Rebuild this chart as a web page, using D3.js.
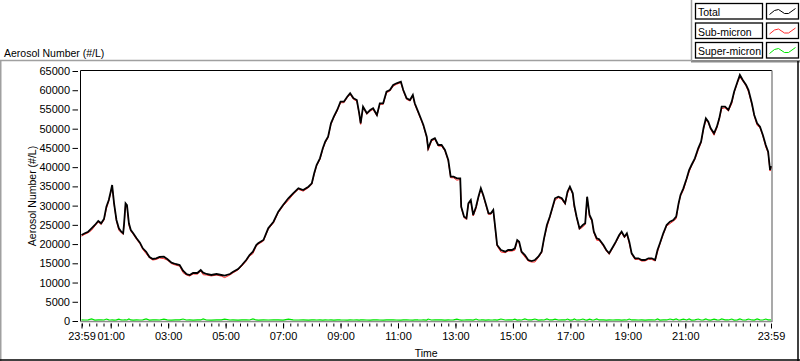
<!DOCTYPE html>
<html>
<head>
<meta charset="utf-8">
<script src="https://cdn.jsdelivr.net/npm/d3@7"></script>
<style>
  body { margin: 0; background: #fff; }
  svg { display: block; font-family: "Liberation Sans", Arial, sans-serif; }
</style>
</head>
<body>
<svg id="chart" width="800" height="361"></svg>
<script>
// sample times, minutes after midnight (-1 = 23:59 of the previous day)
const sampleMinutes = [
  -1, 6, 13, 20, 27, 34, 40, 46, 51, 56,
  60, 63, 67, 72, 77, 82, 86, 88, 91, 94,
  98, 102, 107, 114, 121, 127, 134, 141, 148, 155,
  162, 171, 178, 187, 195, 204, 211, 218, 225, 232,
  241, 248, 253, 260, 270, 281, 291, 298, 309, 315,
  326, 334, 343, 350, 357, 364, 368, 379, 389, 400,
  410, 420, 431, 441, 452, 462, 473, 480, 485, 490,
  497, 503, 508, 514, 520, 526, 533, 540, 547, 554,
  560, 567, 574, 579, 582, 587, 595, 602, 608, 616,
  622, 629, 636, 643, 650, 657, 666, 671, 678, 685,
  691, 695, 702, 709, 713, 720, 723, 730, 737, 744,
  751, 758, 765, 770, 776, 783, 790, 792, 798, 803,
  807, 812, 817, 823, 828, 833, 838, 843, 849, 854,
  859, 864, 867, 875, 884, 890, 898, 904, 909, 913,
  918, 925, 932, 939, 946, 953, 960, 965, 971, 977,
  983, 988, 995, 1002, 1009, 1014, 1019, 1025, 1028, 1033,
  1039, 1046, 1051, 1055, 1060, 1065, 1069, 1075, 1080, 1089,
  1095, 1101, 1109, 1115, 1122, 1127, 1133, 1138, 1143, 1148,
  1155, 1162, 1169, 1176, 1183, 1190, 1197, 1202, 1207, 1214,
  1221, 1228, 1235, 1241, 1246, 1250, 1256, 1263, 1268, 1273,
  1280, 1287, 1293, 1298, 1303, 1308, 1313, 1320, 1326, 1331,
  1336, 1343, 1350, 1357, 1362, 1369, 1374, 1380, 1387, 1392,
  1399, 1404, 1410, 1416, 1422, 1428, 1433, 1437, 1439
];

const totalNumber = [
  22360, 22800, 23220, 24100, 24960, 26000, 25400, 26520, 29720, 31460,
  33620, 35360, 30600, 26260, 24100, 23220, 22800, 25400, 30600, 30160,
  25400, 23660, 22800, 21500, 20360, 18900, 18020, 16640, 16120, 16300,
  16640, 16720, 16120, 15160, 14820, 14560, 13080, 12220, 11960, 12480,
  12480, 13260, 12560, 12220, 11960, 12220, 11960, 11780, 12220, 12740,
  13520, 14560, 15860, 17160, 18020, 19760, 20200, 21060, 24100, 25820,
  28420, 30160, 31900, 33200, 34500, 34060, 34920, 35800, 38400, 40560,
  42300, 44900, 46620, 47920, 51400, 53120, 54860, 57020, 57020, 58320,
  59200, 57900, 57460, 54000, 51400, 55720, 54000, 54860, 55300, 53560,
  56600, 56600, 59620, 60060, 61360, 61800, 62220, 60060, 57900, 57460,
  58760, 56600, 54420, 52260, 50960, 47920, 44900, 47060, 47500, 45760,
  45760, 44460, 41860, 37520, 37520, 37100, 37100, 29720, 27120, 26700,
  30600, 31460, 27560, 29720, 32320, 34500, 32760, 30600, 28000, 28000,
  28860, 23220, 19760, 18460, 18020, 18460, 18460, 18900, 21060, 20620,
  18020, 17160, 15860, 15600, 15860, 16720, 18020, 21500, 24960, 27120,
  29720, 31900, 32320, 31900, 30600, 33620, 34920, 33200, 30160, 27120,
  24100, 24960, 25400, 32320, 27560, 26260, 23220, 21500, 21240, 19760,
  18460, 17600, 19320, 20620, 22360, 23220, 21920, 22800, 20620, 17600,
  16300, 16300, 15860, 15860, 16300, 16300, 15860, 18460, 20200, 22800,
  24960, 25820, 26260, 27120, 30600, 32760, 34500, 37100, 39260, 40560,
  42300, 44900, 46620, 50100, 52700, 51820, 50100, 48800, 50520, 52700,
  55720, 55720, 54860, 57020, 59620, 62220, 63960, 62660, 61360, 60060,
  56600, 53560, 51400, 50520, 48360, 45760, 44020, 39260, 40300
];

const superMicron = [
  300, 260, 280, 520, 250, 270, 300, 260, 510, 280,
  260, 300, 250, 280, 500, 270, 260, 300, 280, 260,
  510, 270, 250, 300, 260, 280, 520, 250, 270, 300,
  260, 500, 280, 250, 270, 300, 510, 260, 280, 250,
  300, 270, 520, 260, 250, 280, 300, 500, 260, 270,
  250, 280, 300, 260, 520, 270, 250, 280, 260, 300,
  270, 250, 510, 280, 260, 300, 250, 270, 280, 260,
  300, 250, 270, 260, 280, 250, 300, 270, 260, 250,
  280, 260, 300, 250, 270, 280, 260, 250, 300, 270,
  260, 250, 280, 270, 300, 260, 250, 280, 270, 260,
  250, 300, 270, 260, 280, 250, 510, 260, 270, 280,
  300, 250, 270, 260, 280, 500, 270, 250, 260, 300,
  270, 280, 250, 510, 260, 270, 300, 250, 280, 260,
  270, 300, 250, 520, 260, 280, 270, 500, 250, 300,
  260, 520, 270, 280, 510, 250, 300, 260, 520, 270,
  280, 500, 260, 300, 270, 510, 250, 280, 520, 260,
  270, 510, 300, 250, 500, 280, 260, 520, 270, 300,
  250, 280, 260, 270, 300, 250, 280, 260, 510, 270,
  300, 260, 280, 250, 270, 300, 260, 520, 250, 280,
  270, 510, 300, 520, 260, 280, 500, 270, 520, 250,
  300, 510, 260, 280, 520, 270, 250, 500, 300, 260,
  520, 280, 270, 510, 250, 300, 520, 260, 280, 510,
  270, 250, 520, 300, 260, 510, 280, 270, 300
];

const yTickValues = d3.range(0, 65001, 5000);
const xMajorMinutes = [-1, 60, 180, 300, 420, 540, 660, 780, 900, 1020, 1140, 1260, 1439];
const xMajorLabels = ["23:59", "01:00", "03:00", "05:00", "07:00", "09:00", "11:00",
                      "13:00", "15:00", "17:00", "19:00", "21:00", "23:59"];
const legendNames = ["Total", "Sub-micron", "Super-micron"];
const legendColors = ["#000000", "#ff2a2a", "#00e600"];

// sub-micron is whatever is left of the total
const subMicron = totalNumber.map((v, i) => v - superMicron[i]);

const svg = d3.select("#chart");
const plot = {left: 80.5, right: 772, top: 70.5, bottom: 321.5};

const x = d3.scaleLinear().domain([-1, 1439]).range([81.5, 771]);
const y = d3.scaleLinear().domain([0, 65000]).range([321, 71]);

// outer panel frame
svg.append("line").attr("x1", 0).attr("x2", 692).attr("y1", 60.5).attr("y2", 60.5)
  .attr("stroke", "#a0a0a0").attr("stroke-width", 1.5);
svg.append("rect").attr("x", 691).attr("y", 60).attr("width", 109).attr("height", 2.5)
  .attr("fill", "#8a8a8a");
svg.append("line").attr("x1", 691.5).attr("x2", 691.5).attr("y1", 0).attr("y2", 61)
  .attr("stroke", "#a0a0a0").attr("stroke-width", 1.5);
svg.append("line").attr("x1", 0.75).attr("x2", 0.75).attr("y1", 60).attr("y2", 361)
  .attr("stroke", "#a0a0a0").attr("stroke-width", 1.5);
svg.append("line").attr("x1", 0).attr("x2", 800).attr("y1", 360).attr("y2", 360)
  .attr("stroke", "#000").attr("stroke-width", 1.5);
svg.append("line").attr("x1", 798).attr("x2", 798).attr("y1", 61).attr("y2", 361)
  .attr("stroke", "#000").attr("stroke-width", 1.5);

// y axis
const yAxis = svg.append("g")
  .attr("transform", "translate(78,0)")
  .call(d3.axisLeft(y).tickValues(yTickValues).tickSize(5.5).tickPadding(2.5)
    .tickFormat(d3.format("d")));
yAxis.select(".domain").remove();
yAxis.selectAll("text").attr("font-size", 11).attr("font-family", null);
yAxis.selectAll("line").attr("stroke", "#000");

// x axis: minor ticks every 15 min, majors every two hours
const minorAxis = svg.append("g")
  .attr("transform", "translate(0,323.5)")
  .call(d3.axisBottom(x).tickValues(d3.range(0, 1440, 15)).tickSize(3).tickFormat(""));
minorAxis.select(".domain").remove();

const majorAxis = svg.append("g")
  .attr("transform", "translate(0,323.5)")
  .call(d3.axisBottom(x).tickValues(xMajorMinutes).tickSize(5).tickPadding(4)
    .tickFormat((d, i) => xMajorLabels[i]));
majorAxis.select(".domain").remove();
majorAxis.selectAll("text").attr("font-size", 11).attr("font-family", null);

// plot frame: dark top/left, grey bottom/right
svg.append("line").attr("x1", plot.left).attr("x2", plot.right).attr("y1", plot.top).attr("y2", plot.top)
  .attr("stroke", "#000");
svg.append("line").attr("x1", plot.left).attr("x2", plot.left).attr("y1", plot.top).attr("y2", plot.bottom)
  .attr("stroke", "#000");
svg.append("line").attr("x1", plot.right).attr("x2", plot.right).attr("y1", plot.top).attr("y2", plot.bottom + 0.5)
  .attr("stroke", "#8c8c8c").attr("stroke-width", 1.5);
svg.append("line").attr("x1", plot.left).attr("x2", plot.right).attr("y1", plot.bottom).attr("y2", plot.bottom)
  .attr("stroke", "#8c8c8c").attr("stroke-width", 1.5);

svg.append("clipPath").attr("id", "plot-clip")
  .append("rect").attr("x", plot.left).attr("y", plot.top)
  .attr("width", plot.right - plot.left).attr("height", plot.bottom - plot.top - 0.5);

const line = d3.line()
  .x((d, i) => x(sampleMinutes[i]))
  .y(d => y(d));

const series = [superMicron, subMicron, totalNumber];
const seriesColors = [legendColors[2], legendColors[1], legendColors[0]];
const seriesWidths = [1.2, 1, 1.8];
svg.append("g").attr("clip-path", "url(#plot-clip)")
  .selectAll("path").data(series).join("path")
  .attr("d", line)
  .attr("fill", "none")
  .attr("stroke", (d, i) => seriesColors[i])
  .attr("stroke-width", (d, i) => seriesWidths[i]);

// titles
svg.append("text").attr("x", 4).attr("y", 57).attr("font-size", 10.5)
  .text("Aerosol Number (#/L)");
svg.append("text").attr("transform", "translate(36,196) rotate(-90)")
  .attr("text-anchor", "middle").attr("font-size", 10.5)
  .text("Aerosol Number (#/L)");
svg.append("text").attr("x", (plot.left + plot.right) / 2).attr("y", 356.5)
  .attr("text-anchor", "middle").attr("font-size", 10.5).text("Time");

// legend
const legend = svg.append("g");
legendNames.forEach((name, i) => {
  const top = 3.5 + i * 19.5;
  legend.append("rect").attr("x", 695.5).attr("y", top).attr("width", 67).attr("height", 15.5)
    .attr("fill", "#fff").attr("stroke", "#000").attr("stroke-width", 1.3);
  legend.append("text").attr("x", 698).attr("y", top + 12.5).attr("font-size", 10.5).text(name);
  legend.append("rect").attr("x", 766.5).attr("y", top).attr("width", 32).attr("height", 15.5)
    .attr("fill", "#fff").attr("stroke", "#000").attr("stroke-width", 1.3);
  const wave = [[3, 11], [8, 7], [12, 6], [18, 10], [22, 10], [29, 5]];
  legend.append("path")
    .attr("d", d3.line()(wave.map(p => [766.5 + p[0], top + p[1]])))
    .attr("fill", "none").attr("stroke", legendColors[i]);
});
</script>
</body>
</html>
